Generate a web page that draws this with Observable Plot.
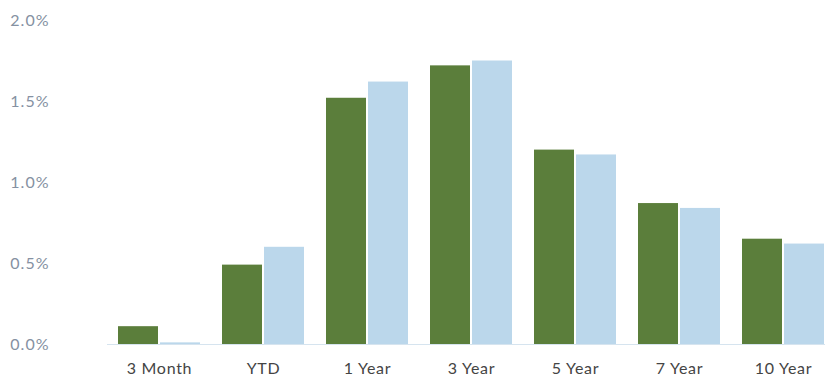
<!DOCTYPE html>
<html>
<head>
<meta charset="utf-8">
<script src="https://cdn.jsdelivr.net/npm/d3@7"></script>
<script src="https://cdn.jsdelivr.net/npm/@observablehq/plot@0.6"></script>
<style>
  html, body { margin: 0; padding: 0; background: #fff; overflow: hidden; }
  g[aria-label="y-axis tick label"] text { letter-spacing: 1px; }
  g[aria-label="fx-axis tick label"] text { letter-spacing: 0.7px; }
</style>
</head>
<body>
<div id="chart"></div>
<script>
const periods = ["3 Month", "YTD", "1 Year", "3 Year", "5 Year", "7 Year", "10 Year"];
const seriesNames = ["Fund", "Benchmark"];
const fundValues = [0.11, 0.49, 1.52, 1.72, 1.20, 0.87, 0.65];
const benchmarkValues = [0.01, 0.60, 1.62, 1.75, 1.17, 0.84, 0.62];
const yTicks = [0, 0.5, 1.0, 1.5, 2.0];

const rows = [];
periods.forEach((p, i) => {
  rows.push({period: p, series: seriesNames[0], value: fundValues[i]});
  rows.push({period: p, series: seriesNames[1], value: benchmarkValues[i]});
});

const chart = Plot.plot({
  width: 825,
  height: 381,
  marginTop: 20,
  marginBottom: 37,
  marginLeft: 117,
  marginRight: -1,
  style: {fontFamily: "Lato, 'Open Sans', sans-serif", background: "#fff"},
  fx: {domain: periods, paddingInner: 0.21, paddingOuter: 0, label: null},
  x: {domain: seriesNames, axis: null, paddingInner: 0.05, paddingOuter: 0},
  y: {domain: [0, 2.0], axis: null},
  color: {domain: seriesNames, range: ["#5b7e3b", "#bbd7eb"]},
  marks: [
    Plot.ruleY([0], {stroke: "#d6e4ef", strokeWidth: 1, insetLeft: -11, insetRight: -11}),
    Plot.barY(rows, {fx: "period", x: "series", y: "value", fill: "series"}),
    Plot.axisY({
      ticks: yTicks,
      tickSize: 0,
      tickPadding: 69,
      tickFormat: d => d.toFixed(1) + "%",
      fontSize: 16,
      fill: "#8591a2",
      label: null
    }),
    Plot.axisFx({
      anchor: "bottom",
      tickSize: 0,
      tickPadding: 18,
      fontSize: 16,
      fill: "#444444",
      label: null
    })
  ]
});
document.getElementById("chart").appendChild(chart);
</script>
</body>
</html>
